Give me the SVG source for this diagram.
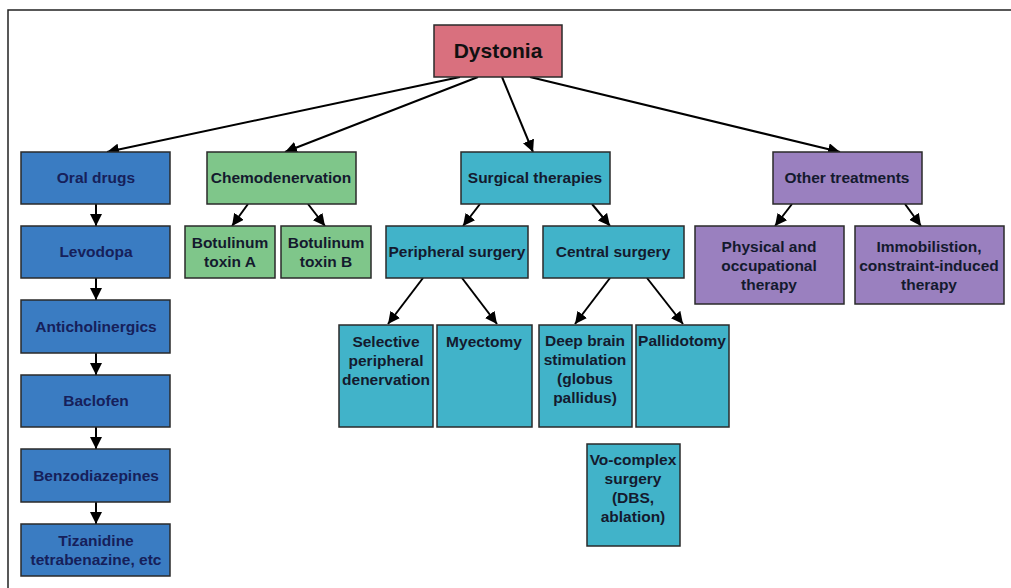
<svg xmlns="http://www.w3.org/2000/svg" width="1011" height="588" viewBox="0 0 1011 588">
<defs>
<marker id="ah" viewBox="0 0 10 10" refX="10" refY="5" markerWidth="12" markerHeight="12" markerUnits="userSpaceOnUse" orient="auto">
<path d="M0,0 L10,5 L0,10 Z" fill="#000"/>
</marker>
</defs>
<style>
.box{stroke:#2a2a2a;stroke-width:1.5}
.pink{fill:#d9707e}
.blue{fill:#3a7cc2}
.green{fill:#7fc68a}
.cyan{fill:#41b3c9}
.purple{fill:#9a80bf}
text{font-family:"Liberation Sans",Arial,sans-serif;font-weight:bold;font-size:15.5px;text-anchor:middle;fill:#141a2e}
.bt{fill:#16205a}
.title{font-size:21px;fill:#111}
.conn line{stroke:#000;stroke-width:2;marker-end:url(#ah)}
</style>
<rect x="0" y="0" width="1011" height="588" fill="#fff"/>
<path d="M8,588 V10 H1011" fill="none" stroke="#222" stroke-width="1.5"/>

<g class="conn">
<line x1="460" y1="77" x2="107" y2="152"/>
<line x1="478" y1="77" x2="285" y2="152"/>
<line x1="502" y1="77" x2="533" y2="152"/>
<line x1="530" y1="77" x2="840" y2="152"/>
<line x1="96" y1="204" x2="96" y2="226"/>
<line x1="96" y1="278" x2="96" y2="300"/>
<line x1="96" y1="353" x2="96" y2="375"/>
<line x1="96" y1="427" x2="96" y2="449"/>
<line x1="96" y1="502" x2="96" y2="524"/>
<line x1="248" y1="204" x2="232" y2="226"/>
<line x1="308" y1="204" x2="325" y2="226"/>
<line x1="480" y1="204" x2="463" y2="226"/>
<line x1="592" y1="204" x2="610" y2="226"/>
<line x1="792" y1="204" x2="775" y2="226"/>
<line x1="905" y1="204" x2="921" y2="226"/>
<line x1="423" y1="278" x2="388" y2="324"/>
<line x1="462" y1="278" x2="497" y2="324"/>
<line x1="610" y1="278" x2="575" y2="324"/>
<line x1="647" y1="278" x2="683" y2="324"/>
</g>

<g id="dystonia"><rect class="box pink" x="434" y="25" width="128" height="52"/><text class="title" x="498" y="58">Dystonia</text></g>

<g id="oral-drugs"><rect class="box blue" x="21" y="152" width="149" height="52"/><text class="bt" x="96" y="183">Oral drugs</text></g>
<g id="levodopa"><rect class="box blue" x="21" y="226" width="149" height="52"/><text class="bt" x="96" y="257">Levodopa</text></g>
<g id="anticholinergics"><rect class="box blue" x="21" y="300" width="149" height="53"/><text class="bt" x="96" y="332">Anticholinergics</text></g>
<g id="baclofen"><rect class="box blue" x="21" y="375" width="149" height="52"/><text class="bt" x="96" y="406">Baclofen</text></g>
<g id="benzodiazepines"><rect class="box blue" x="21" y="449" width="149" height="53"/><text class="bt" x="96" y="481">Benzodiazepines</text></g>
<g id="tizanidine"><rect class="box blue" x="21" y="524" width="149" height="52"/><text class="bt" x="96" y="546">Tizanidine</text><text class="bt" x="96" y="565">tetrabenazine, etc</text></g>

<g id="chemodenervation"><rect class="box green" x="207" y="152" width="149" height="52"/><text x="281" y="183">Chemodenervation</text></g>
<g id="botA"><rect class="box green" x="185" y="226" width="90" height="52"/><text x="230" y="248">Botulinum</text><text x="230" y="267">toxin A</text></g>
<g id="botB"><rect class="box green" x="281" y="226" width="90" height="52"/><text x="326" y="248">Botulinum</text><text x="326" y="267">toxin B</text></g>

<g id="surgical"><rect class="box cyan" x="461" y="152" width="149" height="52"/><text x="535" y="183">Surgical therapies</text></g>
<g id="peripheral"><rect class="box cyan" x="386" y="226" width="142" height="52"/><text x="457" y="257">Peripheral surgery</text></g>
<g id="central"><rect class="box cyan" x="543" y="226" width="141" height="52"/><text x="613" y="257">Central surgery</text></g>
<g id="selective"><rect class="box cyan" x="339" y="325" width="94" height="102"/><text x="386" y="347">Selective</text><text x="386" y="366">peripheral</text><text x="386" y="385">denervation</text></g>
<g id="myectomy"><rect class="box cyan" x="437" y="325" width="95" height="102"/><text x="484" y="347">Myectomy</text></g>
<g id="dbs"><rect class="box cyan" x="539" y="325" width="93" height="102"/><text x="585" y="346">Deep brain</text><text x="585" y="365">stimulation</text><text x="585" y="384">(globus</text><text x="585" y="403">pallidus)</text></g>
<g id="pallidotomy"><rect class="box cyan" x="636" y="325" width="93" height="102"/><text x="682" y="346">Pallidotomy</text></g>
<g id="vo-complex"><rect class="box cyan" x="587" y="444" width="93" height="102"/><text x="633" y="465">Vo-complex</text><text x="633" y="484">surgery</text><text x="633" y="503">(DBS,</text><text x="633" y="522">ablation)</text></g>

<g id="other"><rect class="box purple" x="773" y="152" width="149" height="52"/><text x="847" y="183">Other treatments</text></g>
<g id="physical"><rect class="box purple" x="695" y="226" width="149" height="78"/><text x="769" y="252">Physical and</text><text x="769" y="271">occupational</text><text x="769" y="290">therapy</text></g>
<g id="immobilisation"><rect class="box purple" x="855" y="226" width="149" height="78"/><text x="929" y="252">Immobilistion,</text><text x="929" y="271">constraint-induced</text><text x="929" y="290">therapy</text></g>
</svg>
